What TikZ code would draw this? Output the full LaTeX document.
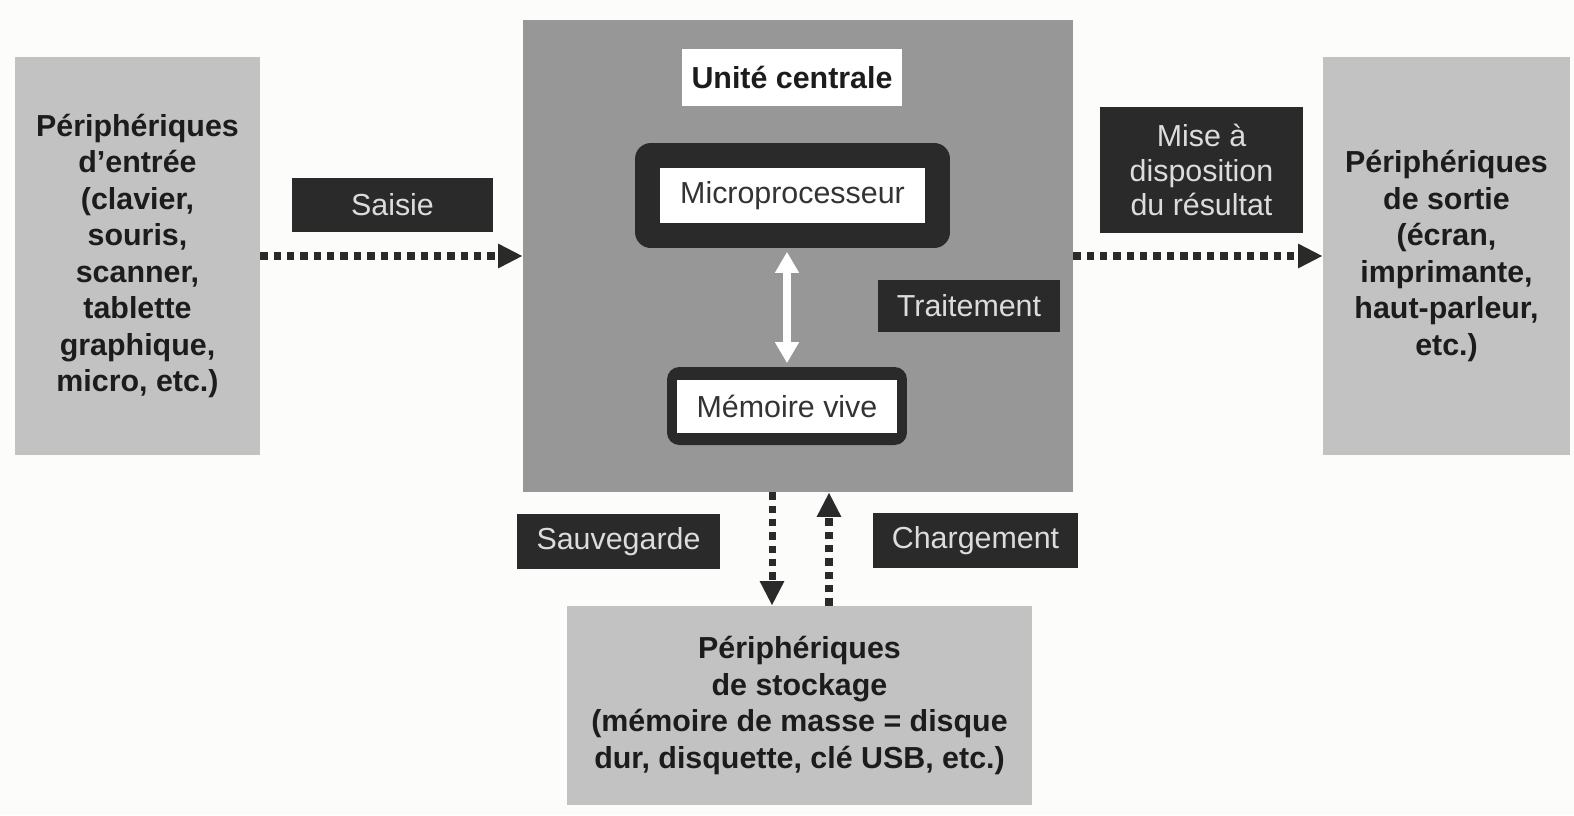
\documentclass[tikz,border=0pt]{standalone}
\usepackage{fontspec}
\setmainfont{Liberation Sans}
\usepackage{xcolor}
\usetikzlibrary{arrows.meta, positioning}

\definecolor{bgpaper}{HTML}{FCFCFA}
\definecolor{perifgray}{HTML}{C2C2C2}
\definecolor{unitgray}{HTML}{979797}
\definecolor{tagdark}{HTML}{2A2A2A}
\definecolor{tagtext}{HTML}{DCDCDC}
\definecolor{inktext}{HTML}{1C1C1C}
\newcommand{\diagfont}{\fontsize{17.3}{20.8}\selectfont}

\begin{document}
\begin{tikzpicture}[
    x=0.02cm, y=-0.02cm,
    font=\diagfont,
    periph/.style={
      rectangle,
      fill=perifgray,
      align=center,
      text=inktext,
      font=\diagfont\bfseries,
      inner sep=0pt
    },
    tagbox/.style={
      rectangle,
      fill=tagdark,
      align=center,
      text=tagtext,
      font=\fontsize{17.3}{19.8}\selectfont,
      inner sep=0pt
    },
    whitebox/.style={
      rectangle,
      fill=white,
      align=center,
      text=black!80,
      inner sep=0pt
    },
    corebox/.style={
      rectangle,
      rounded corners=9pt,
      fill=tagdark,
      inner sep=0pt
    },
    flowarrow/.style={
      -{Triangle[length=14pt, width=13pt]},
      line width=4pt,
      dash pattern=on 4.2pt off 3.4pt,
      draw=tagdark
    },
    linkarrow/.style={
      {Triangle[length=12pt, width=13pt]}-{Triangle[length=12pt, width=13pt]},
      line width=4.5pt,
      draw=white
    }
]

% 0. PAGE
\fill[bgpaper] (0,0) rectangle (1574,815);

% 1. NODES
\node[periph, minimum width=4.9cm, minimum height=7.96cm] (entree) at (137.5,256)
    {Périphériques\\d’entrée\\(clavier,\\souris,\\scanner,\\tablette\\graphique,\\micro, etc.)};
\node[periph, minimum width=4.94cm, minimum height=7.96cm] (sortie) at (1446.5,256)
    {Périphériques\\de sortie\\(écran,\\imprimante,\\haut-parleur,\\etc.)};
\node[periph, minimum width=9.3cm, minimum height=3.98cm] (stockage) at (799.5,705.5)
    {Périphériques\\de stockage\\(mémoire de masse = disque\\dur, disquette, clé USB, etc.)};

\node[rectangle, fill=unitgray, minimum width=11cm, minimum height=9.44cm] (unite) at (798,256) {};
\node[whitebox, font=\diagfont\bfseries, text=inktext, minimum width=4.4cm, minimum height=1.14cm] (titre) at (792,77.5) {Unité centrale};

\node[corebox, minimum width=6.3cm, minimum height=2.1cm] (microframe) at (792.5,195.5) {};
\node[whitebox, minimum width=5.32cm, minimum height=1.1cm] (micro) at (microframe) {Microprocesseur};
\node[corebox, rounded corners=7pt, minimum width=4.8cm, minimum height=1.56cm] (memframe) at (787,406) {};
\node[whitebox, minimum width=4.4cm, minimum height=1.06cm] (mem) at (memframe) {Mémoire vive};

\node[tagbox, minimum width=4.02cm, minimum height=1.08cm] (saisie) at (392.5,205) {Saisie};
\node[tagbox, minimum width=4.06cm, minimum height=2.52cm] (mise) at (1201.5,170) {Mise à\\disposition\\du résultat};
\node[tagbox, minimum width=3.64cm, minimum height=1.04cm] (traitement) at (969,306) {Traitement};
\node[tagbox, minimum width=4.06cm, minimum height=1.1cm] (sauvegarde) at (618.5,541.5) {Sauvegarde};
\node[tagbox, minimum width=4.1cm, minimum height=1.1cm] (chargement) at (975.5,540.5) {Chargement};

% 2. ARROWS
\draw[flowarrow] (entree.east) -- (unite.west);
\draw[flowarrow] (unite.east) -- (sortie.west);

% between the central unit and the storage
\draw[flowarrow] ([xshift=-0.52cm]unite.south) -- ([xshift=-0.52cm]unite.south |- stockage.north);
\draw[flowarrow] ([xshift=0.62cm]unite.south |- stockage.north) -- ([xshift=0.62cm]unite.south);

% inside the central unit
\draw[linkarrow, shorten >=2pt, shorten <=2pt] (memframe.north) -- (memframe.north |- microframe.south);

\end{tikzpicture}
\end{document}
